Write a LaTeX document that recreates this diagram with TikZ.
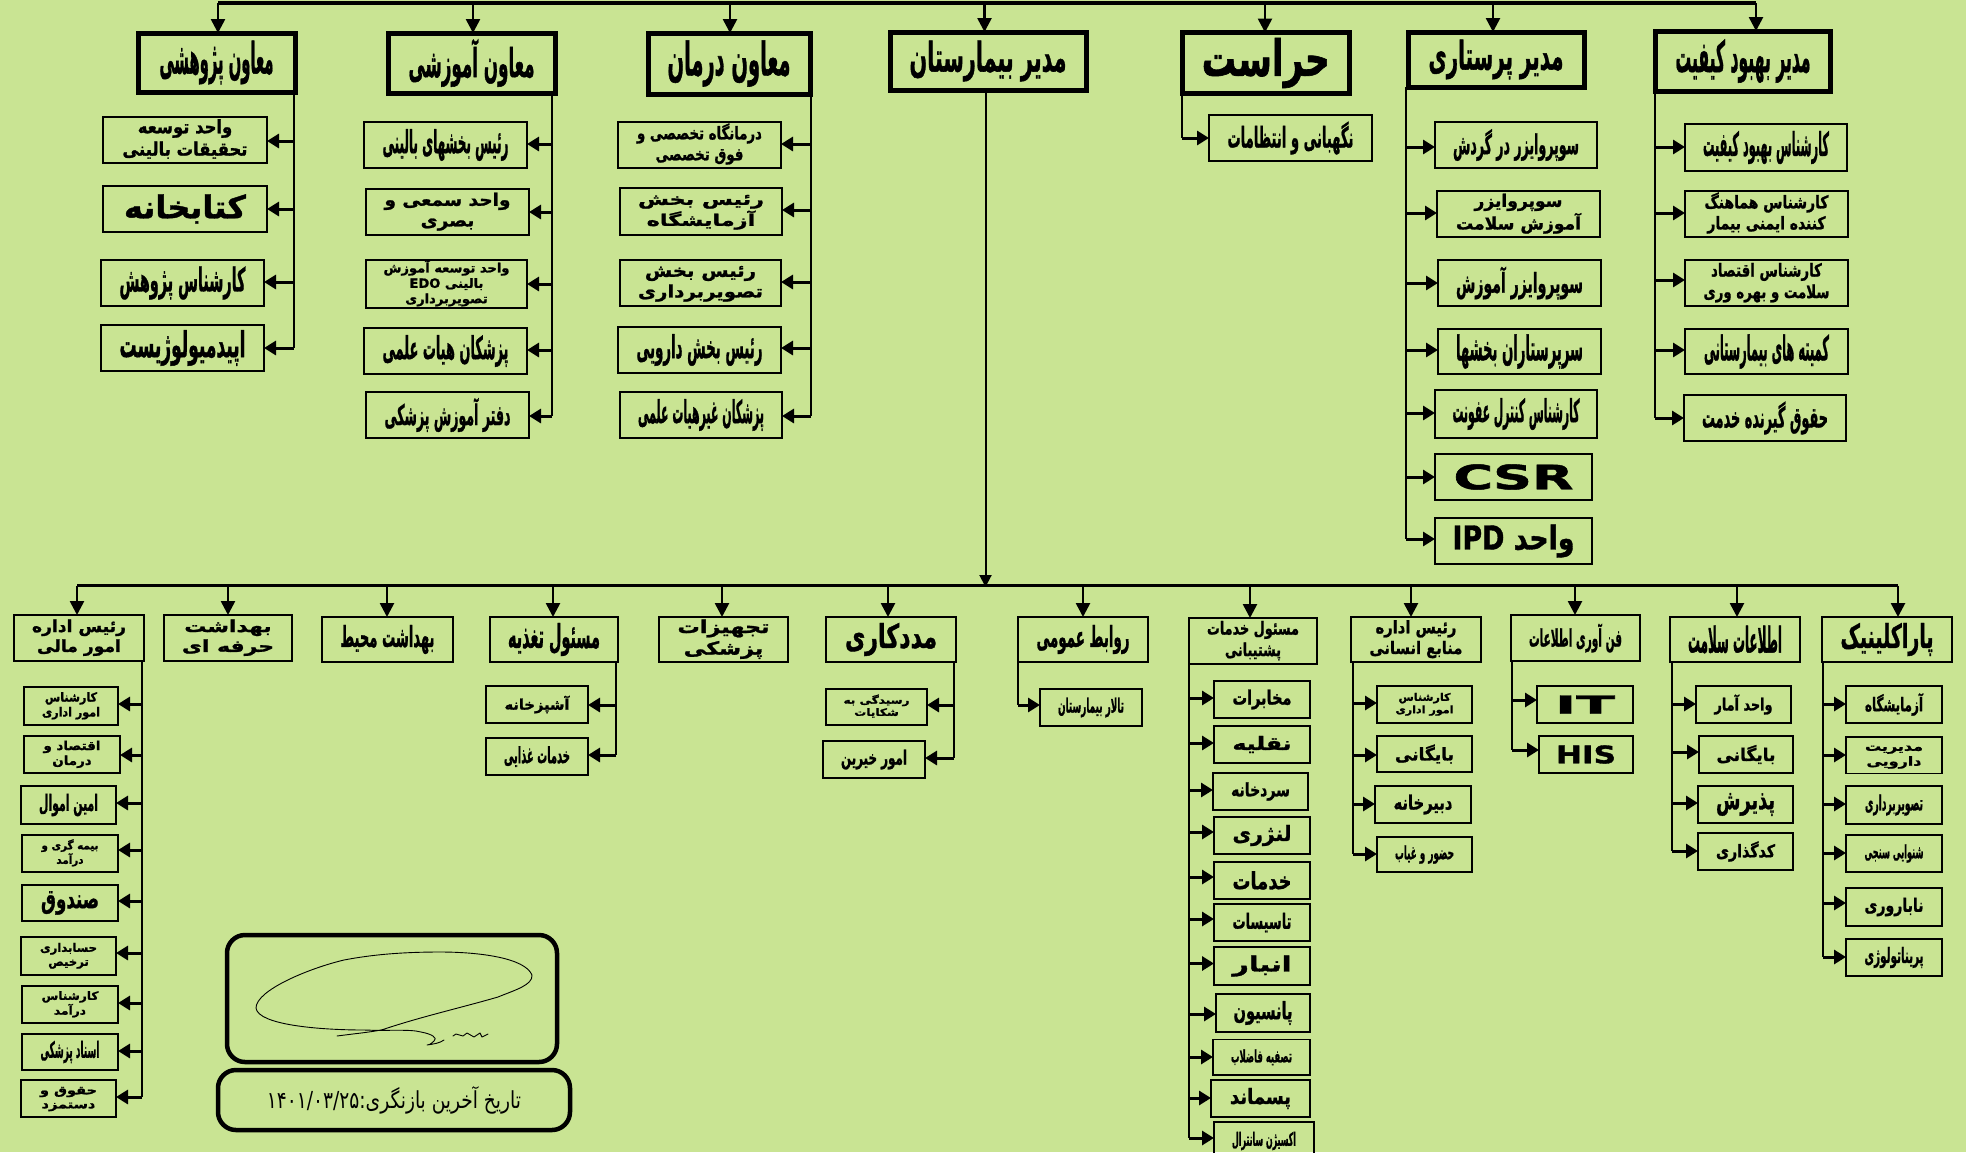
\documentclass[tikz,border=0pt]{standalone}
\usepackage{graphicx}
\usepackage{fontspec}
\usetikzlibrary{arrows.meta,calc}
\TeXXeTstate=1
\newfontfamily\fa[Script=Arabic,BoldFeatures={FakeBold=1.3}]{DejaVu Sans}
\definecolor{pagebg}{RGB}{201,228,147}
\newcommand\T[3]{\resizebox{#1pt}{#2pt}{\fa\bfseries #3}}
\newcommand\TT[4]{\resizebox{#1pt}{#2pt}{\fa\bfseries\begin{tabular}{@{}c@{}}#3\\#4\end{tabular}}}
\newcommand\TTT[5]{\resizebox{#1pt}{#2pt}{\fa\bfseries\begin{tabular}{@{}c@{}}#3\\#4\\#5\end{tabular}}}
\newcommand\boxn[7]{\node[#1,minimum width={(#5-#3)*1pt},minimum height={(#6-#4)*1pt}] (#2) at ({(#3+#5)/2},{(#4+#6)/2}) {#7};}
\newcommand\hd[8]{\boxn{#1}{#2}{#3}{#4}{#5}{#6}{#8}\coordinate (#2-in) at (#7,#4);\draw[railarrow] (#2-in |- \currail) -- (#2-in);}
\newcommand\bus[3]{\coordinate (#1) at (#2,0 |- #3.south);}
\newcommand\kidL[8]{\boxn{kidbox}{#1}{#2}{#3}{#4}{#5}{#8}\coordinate (#1-a) at (#4,#6);\draw[brancharrow] (#7 |- #1-a) -- (#1-a);}
\newcommand\kidR[8]{\boxn{kidbox}{#1}{#2}{#3}{#4}{#5}{#8}\coordinate (#1-a) at (#2,#6);\draw[brancharrow] (#7 |- #1-a) -- (#1-a);}
\tikzset{
 kidbox/.style={draw=black,line width=1.7pt,inner sep=0pt,outer sep=0pt,text=black},
 topbox/.style={draw=black,line width=5pt,inner sep=0pt,outer sep=0pt,text=black},
 lowbox/.style={draw=black,line width=2pt,inner sep=0pt,outer sep=0pt,text=black},
 railarrow/.style={line width=2.6pt,-{Triangle[length=14pt,width=14pt]}},
 brancharrow/.style={line width=3pt,-{Triangle[length=12pt,width=14pt]}},
 trunk/.style={line width=2pt},
 rail/.style={line width=2.4pt},
 framebox/.style={draw=black,line width=4.5pt,rounded corners=18pt,inner sep=0pt,outer sep=0pt},
 sign/.style={line width=.9pt,line cap=round,line join=round}
}
\begin{document}
\begin{tikzpicture}[x=1pt,y=-1pt]
\useasboundingbox (0,0) rectangle (1966,1152);
\fill[pagebg] (0,0) rectangle (1966,1152);
\clip (0,0) rectangle (1966,1152);
% --- top rail
\coordinate (toprail) at (0,3);
\def\currail{toprail}
\hd{topbox}{p1}{138}{33}{295}{92}{218}{\T{114}{33}{\beginR معاون پژوهشی\endR}}
\hd{topbox}{p2}{388}{33}{555}{93}{473}{\T{126}{38}{\beginR معاون آموزشی\endR}}
\hd{topbox}{p3}{648}{33}{810}{94}{730}{\T{123}{35}{\beginR معاون درمان\endR}}
\hd{topbox}{p4}{890}{32}{1086}{90}{984.5}{\T{157}{31}{\beginR مدیر بیمارستان\endR}}
\hd{topbox}{p5}{1182.5}{32.5}{1349}{93.5}{1265}{\T{128}{38}{\beginR حراست\endR}}
\hd{topbox}{p6}{1408}{32}{1584}{87}{1493}{\T{135}{30}{\beginR مدیر پرستاری\endR}}
\hd{topbox}{p7}{1655.5}{31}{1830.5}{91}{1756}{\T{135}{33}{\beginR مدیر بهبود کیفیت\endR}}
\draw[line width=3.6pt] (p1-in |- toprail) -- (p7-in |- toprail);
% --- column 1
\bus{b1}{293.5}{p1}
\kidL{a1}{103}{117}{267}{163}{141}{b1}{\TT{125}{27}{\beginR واحد توسعه\endR}{\beginR تحقیقات بالینی\endR}}
\kidL{a2}{103}{186}{267}{232}{209}{b1}{\T{122}{24}{\beginR کتابخانه\endR}}
\kidL{a3}{101}{260}{264}{306}{282}{b1}{\T{126}{25}{\beginR کارشناس پژوهش\endR}}
\kidL{a4}{101}{325}{264}{371}{348}{b1}{\T{126}{27}{\beginR اپیدمیولوژیست\endR}}
\draw[trunk] (b1) -- (b1 |- a4-a);
% --- column 2
\bus{b2}{552}{p2}
\kidL{c1}{364}{122}{527}{168}{144}{b2}{\T{126}{24}{\beginR رئیس بخشهای بالینی\endR}}
\kidL{c2}{366}{189}{529}{235}{212}{b2}{\TT{126}{25}{\beginR واحد سمعی و\endR}{\beginR بصری\endR}}
\kidL{c3}{366}{261}{527}{307}{284}{b2}{\TTT{126}{27}{\beginR واحد توسعه آموزش\endR}{\beginR بالینی \beginL EDO\endL\endR}{\beginR تصویربرداری\endR}}
\kidL{c4}{364}{328}{527}{374}{350}{b2}{\T{126}{24}{\beginR پزشکان هیات علمی\endR}}
\kidL{c5}{366}{392}{529}{438}{416}{b2}{\T{126}{27}{\beginR دفتر آموزش پزشکی\endR}}
\draw[trunk] (b2) -- (b2 |- c5-a);
% --- column 3
\bus{b3}{811}{p3}
\kidL{d1}{618}{122}{781}{168}{144}{b3}{\TT{125}{26}{\beginR درمانگاه تخصصی و\endR}{\beginR فوق تخصصی\endR}}
\kidL{d2}{620}{188}{782}{235}{210}{b3}{\TT{126}{24}{\beginR رئیس بخش\endR}{\beginR آزمایشگاه\endR}}
\kidL{d3}{620}{260}{781}{306}{282}{b3}{\TT{125}{25}{\beginR رئیس بخش\endR}{\beginR تصویربرداری\endR}}
\kidL{d4}{618}{327}{781}{373}{348}{b3}{\T{126}{24}{\beginR رئیس بخش دارویی\endR}}
\kidL{d5}{620}{392}{782}{438}{416}{b3}{\T{126}{24}{\beginR پزشکان غیرهیات علمی\endR}}
\draw[trunk] (b3) -- (b3 |- d5-a);
% --- security
\bus{b5}{1181.5}{p5}
\kidR{e1}{1209}{115}{1372}{161}{138}{b5}{\T{126}{26}{\beginR نگهبانی و انتظامات\endR}}
\draw[trunk] (b5) -- (b5 |- e1-a);
% --- nursing
\bus{b6}{1406}{p6}
\kidR{f1}{1435}{122}{1597}{168}{147}{b6}{\T{126}{25}{\beginR سوپروایزر در گردش\endR}}
\kidR{f2}{1437}{191}{1600}{237}{213}{b6}{\TT{125}{26}{\beginR سوپروایزر\endR}{\beginR آموزش سلامت\endR}}
\kidR{f3}{1438}{260}{1601}{306}{283}{b6}{\T{127}{26}{\beginR سوپروایزر آموزش\endR}}
\kidR{f4}{1438}{329}{1601}{374}{350}{b6}{\T{127}{26}{\beginR سرپرستاران بخشها\endR}}
\kidR{f5}{1435}{390}{1597}{438}{413}{b6}{\T{127}{24}{\beginR کارشناس کنترل عفونت\endR}}
\kidR{f6}{1435}{454}{1592}{500}{477}{b6}{\resizebox{120pt}{25pt}{\fa\bfseries CSR}}
\kidR{f7}{1435}{518}{1592}{564}{539}{b6}{\T{122}{25}{\beginR واحد \beginL IPD\endL\endR}}
\draw[trunk] (b6) -- (b6 |- f7-a);
% --- quality
\bus{b7}{1655}{p7}
\kidR{g1}{1685}{124}{1847}{171}{147}{b7}{\T{126}{25}{\beginR کارشناس بهبود کیفیت\endR}}
\kidR{g2}{1685}{191}{1848}{237}{213}{b7}{\TT{124}{26}{\beginR کارشناس هماهنگ\endR}{\beginR کننده ایمنی بیمار\endR}}
\kidR{g3}{1685}{260}{1848}{306}{280}{b7}{\TT{126}{26}{\beginR کارشناس اقتصاد\endR}{\beginR سلامت و بهره وری\endR}}
\kidR{g4}{1685}{329}{1848}{374}{350}{b7}{\T{125}{26}{\beginR کمیته های بیمارستانی\endR}}
\kidR{g5}{1684}{395}{1846}{441}{418}{b7}{\T{126}{26}{\beginR حقوق گیرنده خدمت\endR}}
\draw[trunk] (b7) -- (b7 |- g5-a);
% --- lower rail
\coordinate (lowrail) at (0,585.5);
\def\currail{lowrail}
\hd{lowbox}{q1}{14}{615}{144}{661}{77}{\TT{94}{24}{\beginR رئیس اداره\endR}{\beginR امور مالی\endR}}
\hd{lowbox}{q2}{164}{615}{292}{661}{228}{\TT{92}{24}{\beginR بهداشت\endR}{\beginR حرفه ای\endR}}
\hd{lowbox}{q3}{322}{617}{453}{662}{387}{\T{94}{22}{\beginR بهداشت محیط\endR}}
\hd{lowbox}{q4}{490}{617}{618}{662}{553}{\T{92}{25}{\beginR مسئول تغذیه\endR}}
\hd{lowbox}{q5}{659}{617}{788}{662}{722}{\TT{92}{26}{\beginR تجهیزات\endR}{\beginR پزشکی\endR}}
\hd{lowbox}{q6}{826}{617}{956}{662}{888}{\T{92}{25}{\beginR مددکاری\endR}}
\hd{lowbox}{q7}{1018}{617}{1148}{662}{1083}{\T{93}{22}{\beginR روابط عمومی\endR}}
\hd{lowbox}{q8}{1189}{618}{1317}{664}{1250}{\TT{92}{26}{\beginR مسئول خدمات\endR}{\beginR پشتیبانی\endR}}
\hd{lowbox}{q9}{1351}{617}{1481}{662}{1411}{\TT{93}{25}{\beginR رئیس اداره\endR}{\beginR منابع انسانی\endR}}
\hd{lowbox}{q10}{1511}{615}{1640}{661}{1575}{\T{93}{23}{\beginR فن آوری اطلاعات\endR}}
\hd{lowbox}{q11}{1670}{617}{1800}{662}{1737}{\T{94}{27}{\beginR اطلاعات سلامت\endR}}
\hd{lowbox}{q12}{1822}{617}{1952}{662}{1898}{\T{93}{25}{\beginR پاراکلینیک\endR}}
\draw[rail] (q1-in |- lowrail) -- (q12-in |- lowrail);
\coordinate (dirbus) at (985.5,0 |- p4.south);
\coordinate (dirend) at (985.5,587);
\draw[line width=2pt,-{Triangle[length=12pt,width=12pt]}] (dirbus) -- (dirend);
% --- finance
\bus{h0}{141.6}{q1}
\kidL{h1}{24}{687}{118}{725}{704}{h0}{\TT{58}{18}{\beginR کارشناس\endR}{\beginR امور اداری\endR}}
\kidL{h2}{24}{736}{120}{773}{755}{h0}{\TT{57}{18}{\beginR اقتصاد و\endR}{\beginR درمان\endR}}
\kidL{h3}{21}{786}{116}{824}{803}{h0}{\T{59}{17}{\beginR امین اموال\endR}}
\kidL{h4}{22}{835}{118}{872}{850}{h0}{\TT{57}{17}{\beginR بیمه گری و\endR}{\beginR درآمد\endR}}
\kidL{h5}{22}{885}{118}{921}{901}{h0}{\T{58}{17}{\beginR صندوق\endR}}
\kidL{h6}{21}{937}{116}{975}{953}{h0}{\TT{57}{17}{\beginR حسابداری\endR}{\beginR ترخیص\endR}}
\kidL{h7}{22}{986}{118}{1023}{1003}{h0}{\TT{57}{17}{\beginR کارشناس\endR}{\beginR درآمد\endR}}
\kidL{h8}{22}{1034}{118}{1070}{1051}{h0}{\T{59}{17}{\beginR اسناد پزشکی\endR}}
\kidL{h9}{21}{1080}{116}{1117}{1097}{h0}{\TT{57}{17}{\beginR حقوق و\endR}{\beginR دستمزد\endR}}
\draw[trunk] (h0) -- (h0 |- h9-a);
% --- nutrition
\bus{i0}{616}{q4}
\kidL{i1}{486}{686}{588}{723}{705}{i0}{\T{65}{14}{\beginR آشپزخانه\endR}}
\kidL{i2}{486}{738}{588}{775}{755}{i0}{\T{66}{17}{\beginR خدمات غذایی\endR}}
\draw[trunk] (i0) -- (i0 |- i2-a);
% --- social work
\bus{j0}{954}{q6}
\kidL{j1}{826}{689}{927}{725}{705}{j0}{\TT{66}{15}{\beginR رسیدگی به\endR}{\beginR شکایات\endR}}
\kidL{j2}{823}{741}{925}{778}{758}{j0}{\T{66}{15}{\beginR امور خیرین\endR}}
\draw[trunk] (j0) -- (j0 |- j2-a);
% --- public relations
\bus{k0}{1018}{q7}
\kidR{k1}{1040}{689}{1142}{726}{705}{k0}{\T{66}{15}{\beginR تالار بیمارستان\endR}}
\draw[trunk] (k0) -- (k0 |- k1-a);
% --- support services
\bus{l0}{1189}{q8}
\kidR{l1}{1214}{681}{1310}{718}{698}{l0}{\T{59}{15}{\beginR مخابرات\endR}}
\kidR{l2}{1214}{726}{1310}{763}{743}{l0}{\T{59}{14}{\beginR نقلیه\endR}}
\kidR{l3}{1213}{773}{1308}{810}{790}{l0}{\T{59}{14}{\beginR سردخانه\endR}}
\kidR{l4}{1214}{817}{1310}{854}{832}{l0}{\T{59}{16}{\beginR لنژری\endR}}
\kidR{l5}{1214}{862}{1310}{899}{877}{l0}{\T{59}{18}{\beginR خدمات\endR}}
\kidR{l6}{1214}{904}{1310}{941}{919}{l0}{\T{59}{16}{\beginR تاسیسات\endR}}
\kidR{l7}{1214}{947}{1310}{985}{963.5}{l0}{\T{59}{16}{\beginR انبار\endR}}
\kidR{l8}{1216}{994}{1310}{1032}{1014}{l0}{\T{59}{18}{\beginR پانسیون\endR}}
\kidR{l9}{1213}{1039.5}{1310}{1075}{1057}{l0}{\T{61}{13}{\beginR تصفیه فاضلاب\endR}}
\kidR{l10}{1211}{1080}{1310}{1117}{1098}{l0}{\T{61}{16}{\beginR پسماند\endR}}
\kidR{l11}{1214}{1122}{1314}{1160}{1138}{l0}{\T{64}{14}{\beginR اکسیژن سانترال\endR}}
\draw[trunk] (l0) -- (l0 |- l11-a);
% --- human resources
\bus{m0}{1353}{q9}
\kidR{m1}{1377}{686}{1472}{723}{703}{m0}{\TT{58}{15}{\beginR کارشناس\endR}{\beginR امور اداری\endR}}
\kidR{m2}{1377}{736}{1472}{772}{755}{m0}{\T{59}{16}{\beginR بایگانی\endR}}
\kidR{m3}{1375}{786}{1471}{823}{804}{m0}{\T{59}{15}{\beginR دبیرخانه\endR}}
\kidR{m4}{1377}{837}{1472}{872}{854}{m0}{\T{59}{14}{\beginR حضور و غیاب\endR}}
\draw[trunk] (m0) -- (m0 |- m4-a);
% --- IT
\bus{n0}{1512}{q10}
\kidR{n1}{1537}{686}{1633}{723}{700}{n0}{\resizebox{60pt}{18pt}{\fa\bfseries IT}}
\kidR{n2}{1539}{736}{1633}{773}{750}{n0}{\resizebox{60pt}{18pt}{\fa\bfseries HIS}}
\draw[trunk] (n0) -- (n0 |- n2-a);
% --- health information
\bus{o0}{1672}{q11}
\kidR{o1}{1696}{686}{1791}{723}{704}{o0}{\T{58}{16}{\beginR واحد آمار\endR}}
\kidR{o2}{1699}{736}{1793}{773}{752}{o0}{\T{59}{16}{\beginR بایگانی\endR}}
\kidR{o3}{1698}{786}{1793}{823}{803}{o0}{\T{59}{16}{\beginR پذیرش\endR}}
\kidR{o4}{1698}{833}{1793}{870}{851}{o0}{\T{59}{16}{\beginR کدگذاری\endR}}
\draw[trunk] (o0) -- (o0 |- o4-a);
% --- paraclinic
\bus{r0}{1823}{q12}
\kidR{r1}{1846}{686}{1942}{723}{704}{r0}{\T{58}{18}{\beginR آزمایشگاه\endR}}
\kidR{r2}{1846}{737}{1942}{773.5}{755}{r0}{\TT{58}{18}{\beginR مدیریت\endR}{\beginR دارویی\endR}}
\kidR{r3}{1846}{786}{1942}{824}{804}{r0}{\T{58}{16}{\beginR تصویربرداری\endR}}
\kidR{r4}{1846}{835}{1942}{872}{853}{r0}{\T{59}{14}{\beginR شنوایی سنجی\endR}}
\kidR{r5}{1846}{888}{1942}{926}{903}{r0}{\T{59}{14}{\beginR ناباروری\endR}}
\kidR{r6}{1846}{939}{1942}{976}{957}{r0}{\T{59}{16}{\beginR پریناتولوژی\endR}}
\draw[trunk] (r0) -- (r0 |- r6-a);
% --- signature and date
\boxn{framebox}{sigbox}{227}{935}{557}{1062}{}
\boxn{framebox}{datebox}{218}{1070}{570}{1130}{\resizebox{254pt}{22pt}{\fa\beginR تاریخ آخرین بازنگری:\beginL ۱۴۰۱/۰۳/۲۵\endL\endR}}
\draw[sign] (337,1036) .. controls (360,1033) and (372,1032) .. (383,1029.5)
 .. controls (420,1017) and (460,1008) .. (498,997)
 .. controls (515,990) and (533,985) .. (532,975)
 .. controls (525,958) and (480,952) .. (440,952)
 .. controls (400,952) and (370,955) .. (344,960)
 .. controls (310,968) and (256,990) .. (256,1008)
 .. controls (258,1025) and (320,1030) .. (364,1030)
 .. controls (390,1031) and (410,1029) .. (421,1032)
 .. controls (432,1034) and (438,1038) .. (434,1041)
 .. controls (430,1045) and (428,1045) .. (427,1045)
 .. controls (434,1044) and (440,1043) .. (444,1040);
\draw[sign] (453,1036) -- (456,1034) -- (463,1036) -- (467,1033) -- (474,1037) -- (480,1033) -- (482,1037) -- (488,1034);
\end{tikzpicture}
\end{document}
